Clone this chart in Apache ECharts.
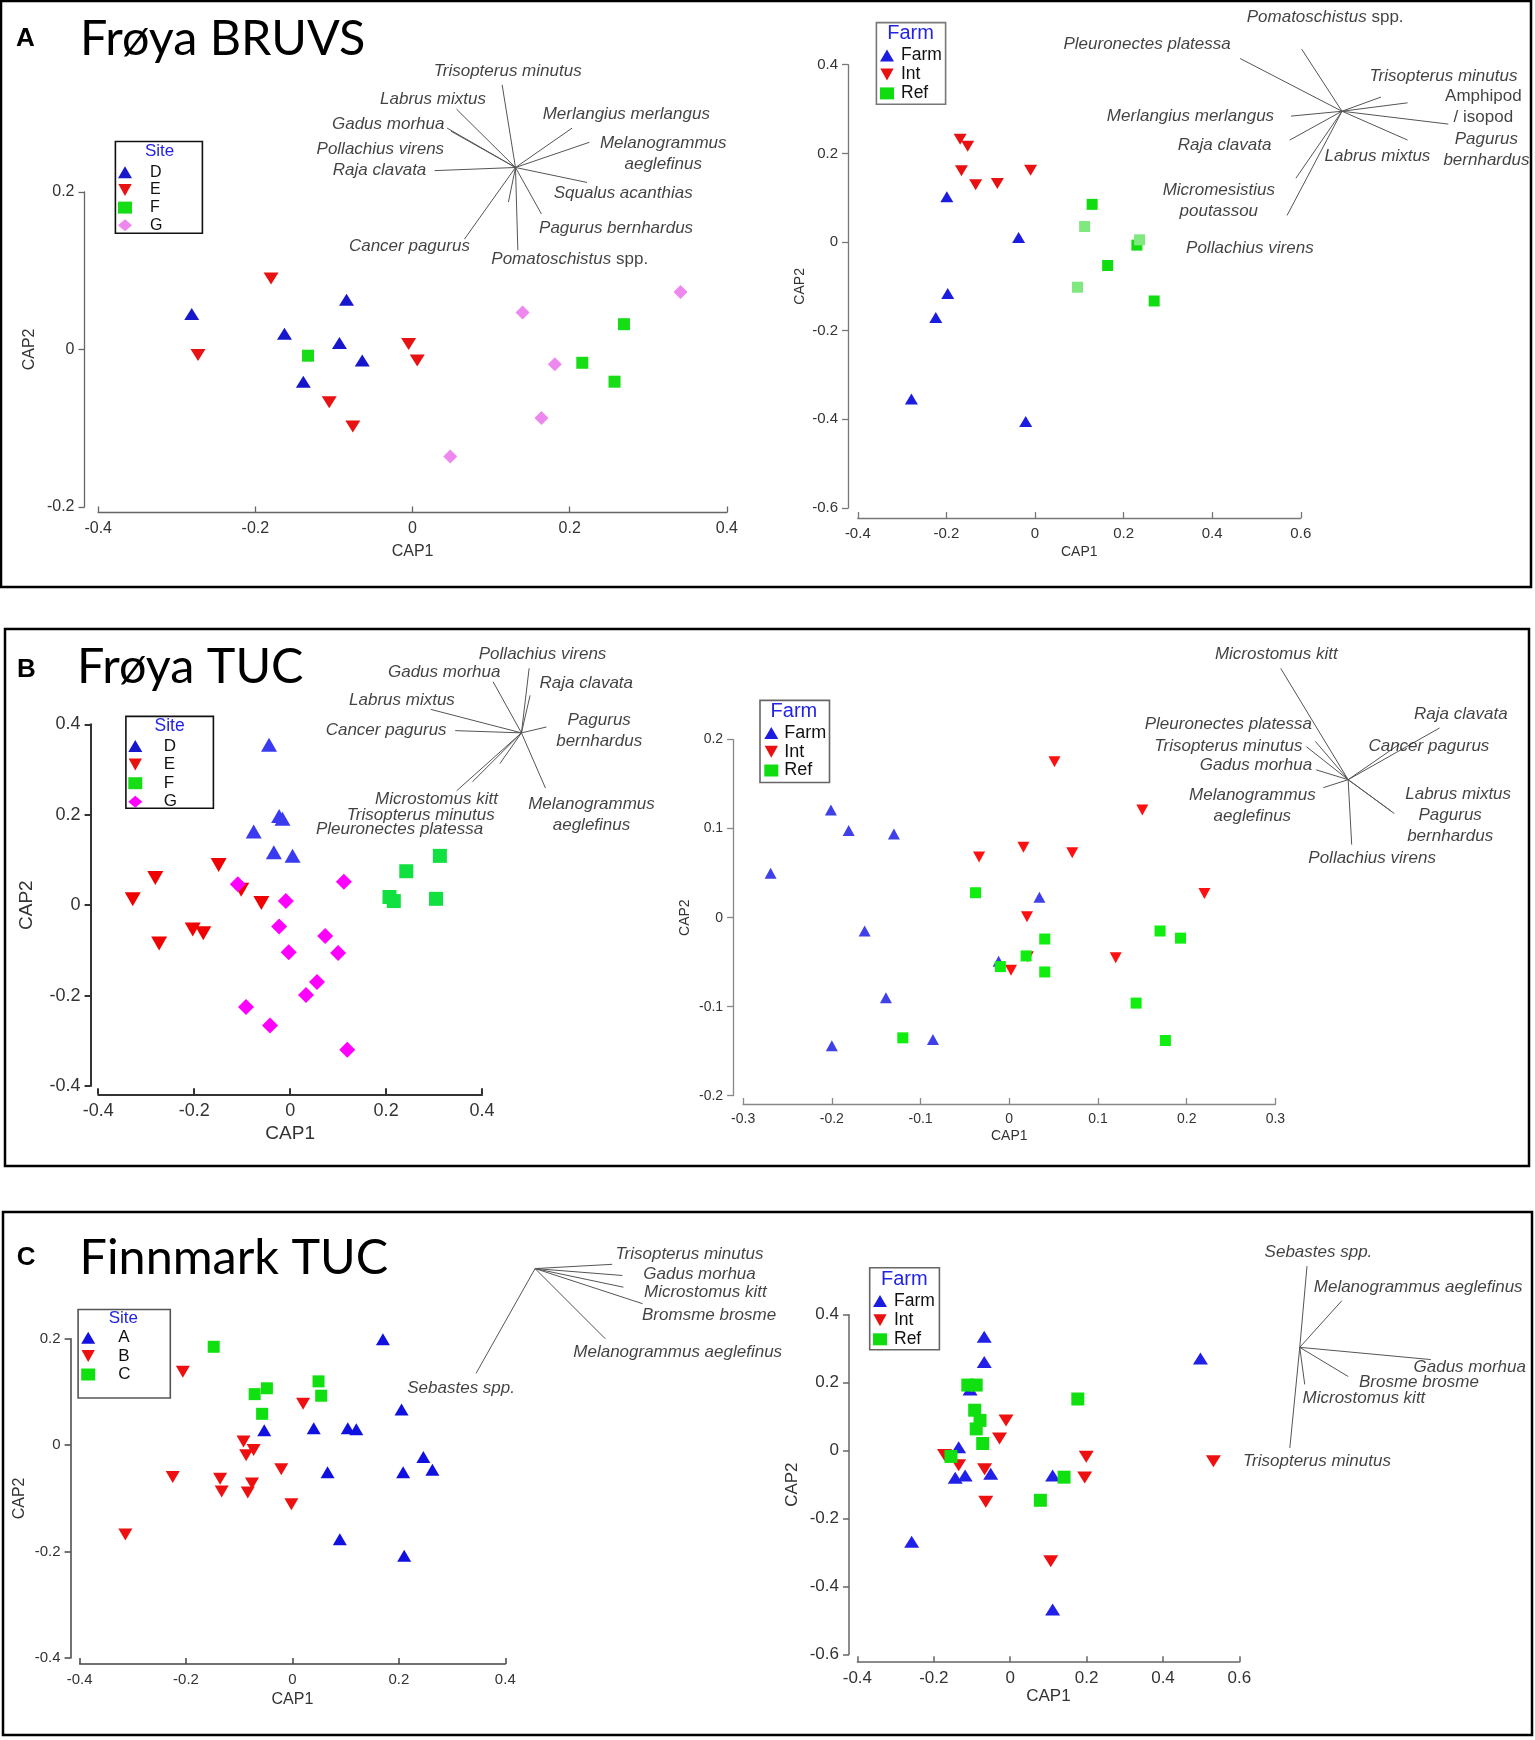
<!DOCTYPE html>
<html>
<head>
<meta charset="utf-8">
<title>CAP ordinations</title>
<script src="https://cdn.jsdelivr.net/npm/echarts@6.0.0/dist/echarts.min.js"></script>
<style>
  html, body { margin: 0; padding: 0; background: #fff; }
  #chart { width: 1535px; height: 1740px; }
</style>
</head>
<body>
<div id="chart"></div>
<script>
// ---- A, Frøya BRUVS, by site
const aSiteD = [[-0.281, 0.045], [-0.084, 0.063], [-0.163, 0.020], [-0.093, 0.008], [-0.064, -0.014], [-0.139, -0.041]];
const aSiteE = [[-0.180, 0.090], [-0.273, -0.007], [-0.005, 0.007], [0.006, -0.014], [-0.106, -0.067], [-0.076, -0.098]];
const aSiteF = [[-0.133, -0.008], [0.269, 0.032], [0.216, -0.017], [0.257, -0.041]];
const aSiteG = [[0.140, 0.047], [0.341, 0.073], [0.181, -0.019], [0.164, -0.087], [0.048, -0.136]];
const aSiteOrigin = [0.131, 0.231];
const aSiteVectors = [
  ['Trisopterus minutus', 0.114, 0.336], ['Labrus mixtus', 0.056, 0.305], ['Gadus morhua', 0.044, 0.281],
  ['Pollachius virens', 0.049, 0.277], ['Raja clavata', 0.028, 0.227], ['Merlangius merlangus', 0.203, 0.281],
  ['Melanogrammus aeglefinus', 0.225, 0.263], ['Squalus acanthias', 0.222, 0.212], ['Pagurus bernhardus', 0.164, 0.172],
  ['Pomatoschistus spp.', 0.134, 0.126], ['Cancer pagurus', 0.066, 0.140], ['', 0.122, 0.187]
];
const aSiteLabels = [
  ['Trisopterus minutus', 0.121, 0.353], ['Labrus mixtus', 0.026, 0.317], ['Gadus morhua', -0.031, 0.286],
  ['Pollachius virens', -0.041, 0.254], ['Raja clavata', -0.042, 0.228], ['Merlangius merlangus', 0.272, 0.298],
  ['Melanogrammus\naeglefinus', 0.319, 0.248], ['Squalus acanthias', 0.268, 0.198], ['Pagurus bernhardus', 0.259, 0.154],
  ['Pomatoschistus {n|spp.}', 0.200, 0.115], ['Cancer pagurus', -0.004, 0.131]
];

// ---- A, Frøya BRUVS, by farm
const aFarmFarm = [[-0.199, 0.102], [-0.037, 0.010], [-0.197, -0.116], [-0.224, -0.170], [-0.279, -0.354], [-0.021, -0.405]];
const aFarmInt = [[-0.169, 0.232], [-0.152, 0.216], [-0.166, 0.161], [-0.134, 0.129], [-0.085, 0.132], [-0.010, 0.162]];
const aFarmRef = [[0.129, 0.085], [0.230, -0.007], [0.164, -0.053], [0.269, -0.133]];
const aFarmRefPale = [[0.112, 0.035], [0.236, 0.005], [0.096, -0.102]];
const aFarmOrigin = [0.693, 0.295];
const aFarmVectors = [
  ['Pomatoschistus spp.', 0.602, 0.435], ['Pleuronectes platessa', 0.463, 0.414], ['Trisopterus minutus', 0.781, 0.327],
  ['Amphipod / isopod', 0.841, 0.314], ['Pagurus bernhardus', 0.933, 0.266], ['Labrus mixtus', 0.841, 0.230],
  ['Merlangius merlangus', 0.578, 0.284], ['Raja clavata', 0.575, 0.230], ['Micromesistius poutassou', 0.589, 0.144],
  ['Pollachius virens', 0.569, 0.060]
];
const aFarmLabels = [
  ['Pomatoschistus {n|spp.}', 0.655, 0.508], ['Pleuronectes platessa', 0.253, 0.446], ['Trisopterus minutus', 0.922, 0.374],
  ['{n|Amphipod}\n{n|/ isopod}', 1.012, 0.306], ['Pagurus\nbernhardus', 1.019, 0.208], ['Labrus mixtus', 0.773, 0.194],
  ['Merlangius merlangus', 0.351, 0.283], ['Raja clavata', 0.428, 0.218], ['Micromesistius\npoutassou', 0.415, 0.092],
  ['Pollachius virens', 0.485, -0.013]
];

// ---- B, Frøya TUC, by site
const bSiteD = [[-0.044, 0.355], [-0.023, 0.197], [-0.016, 0.191], [-0.076, 0.163], [-0.034, 0.117], [0.005, 0.109]];
const bSiteE = [[-0.328, 0.013], [-0.281, 0.060], [-0.273, -0.085], [-0.149, 0.089], [-0.102, 0.034], [-0.060, 0.005], [-0.203, -0.054], [-0.181, -0.062]];
const bSiteF = [[0.207, 0.018], [0.216, 0.009], [0.242, 0.075], [0.312, 0.109], [0.304, 0.014]];
const bSiteG = [[-0.109, 0.046], [-0.009, 0.009], [-0.023, -0.047], [-0.003, -0.104], [0.073, -0.068], [0.100, -0.106],
  [0.056, -0.170], [0.033, -0.199], [-0.092, -0.225], [-0.042, -0.266], [0.119, -0.320], [0.112, 0.052]];
const bSiteOrigin = [0.482, 0.381];
const bSiteVectors = [
  ['Pollachius virens', 0.498, 0.524], ['Gadus morhua', 0.423, 0.494], ['Raja clavata', 0.500, 0.464],
  ['Labrus mixtus', 0.293, 0.433], ['Cancer pagurus', 0.344, 0.386], ['Pagurus bernhardus', 0.534, 0.394],
  ['Melanogrammus aeglefinus', 0.532, 0.259], ['Microstomus kitt', 0.347, 0.253], ['Trisopterus minutus', 0.380, 0.273],
  ['Pleuronectes platessa', 0.437, 0.313]
];
const bSiteLabels = [
  ['Pollachius virens', 0.526, 0.555], ['Gadus morhua', 0.321, 0.516], ['Raja clavata', 0.617, 0.490],
  ['Labrus mixtus', 0.233, 0.453], ['Cancer pagurus', 0.200, 0.387], ['Pagurus\nbernhardus', 0.644, 0.385],
  ['Melanogrammus\naeglefinus', 0.628, 0.200], ['Microstomus kitt', 0.305, 0.235], ['Trisopterus minutus', 0.272, 0.199],
  ['Pleuronectes platessa', 0.228, 0.167]
];

// ---- B, Frøya TUC, by farm
const bFarmFarm = [[-0.201, 0.121], [-0.181, 0.098], [-0.130, 0.094], [-0.269, 0.050], [-0.163, -0.015], [-0.139, -0.090],
  [-0.200, -0.144], [-0.086, -0.137], [0.034, 0.023], [-0.012, -0.049]];
const bFarmInt = [[0.051, 0.175], [0.150, 0.121], [0.016, 0.079], [0.071, 0.073], [-0.034, 0.068], [0.220, 0.027],
  [0.020, 0.001], [0.021, -0.044], [0.002, -0.059], [0.120, -0.045]];
const bFarmRef = [[-0.038, 0.028], [0.040, -0.024], [0.019, -0.043], [-0.010, -0.055], [0.040, -0.061], [0.170, -0.015],
  [0.193, -0.023], [0.143, -0.096], [0.176, -0.138], [-0.120, -0.135]];
const bFarmOrigin = [0.382, 0.155];
const bFarmVectors = [
  ['Microstomus kitt', 0.306, 0.280], ['Raja clavata', 0.485, 0.213], ['Cancer pagurus', 0.440, 0.195],
  ['Pleuronectes platessa', 0.345, 0.198], ['Trisopterus minutus', 0.335, 0.192], ['Gadus morhua', 0.346, 0.166],
  ['Melanogrammus aeglefinus', 0.354, 0.146], ['Labrus mixtus', 0.430, 0.120], ['Pagurus bernhardus', 0.434, 0.117],
  ['Pollachius virens', 0.386, 0.082]
];
const bFarmLabels = [
  ['Microstomus kitt', 0.301, 0.296], ['Raja clavata', 0.509, 0.229], ['Cancer pagurus', 0.473, 0.192],
  ['Pleuronectes platessa', 0.247, 0.217], ['Trisopterus minutus', 0.247, 0.193], ['Gadus morhua', 0.278, 0.171],
  ['Melanogrammus\naeglefinus', 0.274, 0.126], ['Labrus mixtus', 0.506, 0.139], ['Pagurus\nbernhardus', 0.497, 0.103],
  ['Pollachius virens', 0.409, 0.067]
];

// ---- C, Finnmark TUC, by site
const cSiteA = [[0.170, 0.199], [0.205, 0.067], [-0.053, 0.028], [0.040, 0.032], [0.104, 0.032], [0.120, 0.030],
  [0.246, -0.022], [0.263, -0.046], [0.208, -0.051], [0.066, -0.051], [0.089, -0.177], [0.210, -0.208]];
const cSiteB = [[-0.206, 0.138], [0.020, 0.078], [-0.092, 0.007], [-0.073, -0.009], [-0.087, -0.019], [-0.021, -0.045],
  [-0.225, -0.060], [-0.136, -0.063], [-0.076, -0.072], [-0.133, -0.087], [-0.084, -0.089], [-0.002, -0.111], [-0.314, -0.168]];
const cSiteC = [[-0.148, 0.185], [-0.071, 0.096], [-0.048, 0.107], [-0.057, 0.059], [0.049, 0.120], [0.054, 0.093]];
const cSiteOrigin = [0.456, 0.332];
const cSiteVectors = [
  ['Trisopterus minutus', 0.601, 0.340], ['Gadus morhua', 0.620, 0.319], ['Microstomus kitt', 0.622, 0.297],
  ['Bromsme brosme', 0.658, 0.266], ['Melanogrammus aeglefinus', 0.588, 0.200], ['Sebastes spp.', 0.345, 0.135]
];
const cSiteLabels = [
  ['Trisopterus minutus', 0.746, 0.359], ['Gadus morhua', 0.765, 0.322], ['Microstomus kitt', 0.776, 0.287],
  ['Bromsme brosme', 0.783, 0.245], ['Melanogrammus aeglefinus', 0.724, 0.175], ['Sebastes spp.', 0.317, 0.107]
];

// ---- C, Finnmark TUC, by farm
const cFarmFarm = [[-0.068, 0.335], [-0.068, 0.261], [-0.105, 0.180], [-0.135, 0.010], [-0.144, -0.080], [-0.118, -0.073],
  [-0.051, -0.068], [0.111, -0.073], [-0.258, -0.268], [0.111, -0.467], [0.498, 0.271]];
const cFarmInt = [[-0.172, -0.013], [-0.135, -0.043], [-0.067, -0.055], [-0.011, 0.089], [-0.028, 0.036], [-0.064, -0.150],
  [0.199, -0.018], [0.195, -0.079], [0.106, -0.325], [0.532, -0.031]];
const cFarmRef = [[-0.111, 0.193], [-0.089, 0.193], [-0.093, 0.119], [-0.079, 0.089], [-0.089, 0.064], [-0.072, 0.021],
  [-0.155, -0.017], [0.177, 0.152], [0.141, -0.078], [0.079, -0.146]];
const cFarmOrigin = [0.758, 0.304];
const cFarmVectors = [
  ['Sebastes spp.', 0.777, 0.543], ['Melanogrammus aeglefinus', 0.868, 0.441], ['Gadus morhua', 1.101, 0.268],
  ['Brosme brosme', 0.885, 0.218], ['Microstomus kitt', 0.771, 0.195], ['Trisopterus minutus', 0.732, 0.008]
];
const cFarmLabels = [
  ['Sebastes spp.', 0.807, 0.585], ['Melanogrammus aeglefinus', 1.068, 0.481], ['Gadus morhua', 1.203, 0.244],
  ['Brosme brosme', 1.070, 0.200], ['Microstomus kitt', 0.926, 0.153], ['Trisopterus minutus', 0.803, -0.031]
];

const FONT = "'Liberation Sans', Arial, sans-serif";
const TRI = 'triangle';
const TRI_DOWN = 'path://M0,0L10,0L5,9Z';
const SQ = 'rect';
const DIA = 'diamond';

const panels = [
  {
    grid: { left: 98.2, top: 191.9, width: 628.7, height: 315 },
    x: [-0.4, 0.4, 0.2], y: [-0.2, 0.2, 0.2], xOffset: 5.6, yOffset: 13.7,
    axisColor: '#666', axisWidth: 1.3, tickFont: 16, nameFont: 16, xNameGap: 31, yNameGap: 47,
    groups: [
      { name: 'D', data: aSiteD, symbol: TRI, size: [15, 12], color: '#1616cc' },
      { name: 'E', data: aSiteE, symbol: TRI_DOWN, size: [15, 12], color: '#e81212' },
      { name: 'F', data: aSiteF, symbol: SQ, size: 12, color: '#16dd16' },
      { name: 'G', data: aSiteG, symbol: DIA, size: [14, 14], color: '#ee88ee' }
    ],
    origin: aSiteOrigin, vectors: aSiteVectors, labels: aSiteLabels,
    legend: { left: 118, top: 164.2, gap: 1.7, rowH: 14, font: 16, pad: 13, data: ['D', 'E', 'F', 'G'] }
  },
  {
    grid: { left: 857.8, top: 64.7, width: 443, height: 443.3 },
    x: [-0.4, 0.6, 0.2], y: [-0.6, 0.4, 0.2], xOffset: 10, yOffset: 9.8,
    axisColor: '#777', axisWidth: 1.3, tickFont: 15, nameFont: 14, xNameGap: 27, yNameGap: 41,
    groups: [
      { name: 'Farm', data: aFarmFarm, symbol: TRI, size: [13, 11], color: '#1c1ce0' },
      { name: 'Int', data: aFarmInt, symbol: TRI_DOWN, size: [13, 11], color: '#e81010' },
      { name: 'Ref', data: aFarmRef, symbol: SQ, size: 11, color: '#10dd10' },
      { name: 'Ref', data: aFarmRefPale, symbol: SQ, size: 11, color: '#7fe87f' }
    ],
    origin: aFarmOrigin, vectors: aFarmVectors, labels: aFarmLabels,
    legend: { left: 880, top: 46.4, gap: 1, rowH: 16, font: 17.5, pad: 2, data: ['Farm', 'Int', 'Ref'] }
  },
  {
    grid: { left: 98.2, top: 724.3, width: 383.9, height: 361.7 },
    x: [-0.4, 0.4, 0.2], y: [-0.4, 0.4, 0.2], xOffset: 8.3, yOffset: 7.6,
    axisColor: '#333', axisWidth: 2, tickFont: 18, nameFont: 19, xNameGap: 30, yNameGap: 54,
    groups: [
      { name: 'D', data: bSiteD, symbol: TRI, size: [16, 14], color: '#3a3af0' },
      { name: 'E', data: bSiteE, symbol: TRI_DOWN, size: [16, 14], color: '#f00000' },
      { name: 'F', data: bSiteF, symbol: SQ, size: 14, color: '#10e040' },
      { name: 'G', data: bSiteG, symbol: DIA, size: [16, 16], color: '#ff00ff' }
    ],
    origin: bSiteOrigin, vectors: bSiteVectors, labels: bSiteLabels,
    legend: { left: 128.3, top: 737.5, gap: 1.6, rowH: 14, font: 17, pad: 16.5,
      data: ['D', 'E', 'F', { name: 'G', itemStyle: { color: '#ff00ff' } }] }
  },
  {
    grid: { left: 743.1, top: 739.6, width: 532.3, height: 356.1 },
    x: [-0.3, 0.3, 0.1], y: [-0.2, 0.2, 0.1], xOffset: 8.3, yOffset: 10,
    axisColor: '#888', axisWidth: 1.3, tickFont: 14, nameFont: 14, xNameGap: 25, yNameGap: 41,
    groups: [
      { name: 'Farm', data: bFarmFarm, symbol: TRI, size: [12, 11], color: '#4040e8' },
      { name: 'Int', data: bFarmInt, symbol: TRI_DOWN, size: [12, 11], color: '#ff1010' },
      { name: 'Ref', data: bFarmRef, symbol: SQ, size: 11, color: '#10ee10' }
    ],
    origin: bFarmOrigin, vectors: bFarmVectors, labels: bFarmLabels,
    legend: { left: 764.3, top: 724, gap: 0.75, rowH: 16, font: 18, pad: 1, data: ['Farm', 'Int', 'Ref'] }
  },
  {
    grid: { left: 79.6, top: 1338.8, width: 425.7, height: 319.2 },
    x: [-0.4, 0.4, 0.2], y: [-0.4, 0.2, 0.2], xOffset: 5.9, yOffset: 9,
    axisColor: '#444', axisWidth: 1.5, tickFont: 15, nameFont: 16, xNameGap: 28, yNameGap: 43,
    groups: [
      { name: 'A', data: cSiteA, symbol: TRI, size: [14, 12], color: '#1010e0' },
      { name: 'B', data: cSiteB, symbol: TRI_DOWN, size: [14, 12], color: '#ee1010' },
      { name: 'C', data: cSiteC, symbol: SQ, size: 12, color: '#10e010' }
    ],
    origin: cSiteOrigin, vectors: cSiteVectors, labels: cSiteLabels,
    legend: { left: 81.2, top: 1329.2, gap: 1.4, rowH: 14, font: 17, pad: 18, data: ['A', 'B', 'C'] }
  },
  {
    grid: { left: 857.4, top: 1314.7, width: 382, height: 339.9 },
    x: [-0.4, 0.6, 0.2], y: [-0.6, 0.4, 0.2], xOffset: 7.6, yOffset: 8.4,
    axisColor: '#666', axisWidth: 1.5, tickFont: 17, nameFont: 17, xNameGap: 26, yNameGap: 48,
    groups: [
      { name: 'Farm', data: cFarmFarm, symbol: TRI, size: [15, 12], color: '#2020e8' },
      { name: 'Int', data: cFarmInt, symbol: TRI_DOWN, size: [15, 12], color: '#ee1010' },
      { name: 'Ref', data: cFarmRef, symbol: SQ, size: 13, color: '#10e010' }
    ],
    origin: cFarmOrigin, vectors: cFarmVectors, labels: cFarmLabels,
    legend: { left: 873, top: 1292.1, gap: 1.1, rowH: 16, font: 17.5, pad: 2, data: ['Farm', 'Int', 'Ref'] }
  }
];

// frames, panel titles, legend boxes and legend headings
const TITLE_FONT = '48.5px Lato, ' + FONT;
const frames = [[1, 1, 1530, 586], [5, 629, 1524, 537], [3, 1212, 1529, 523]];
const titles = [
  ['A', 25.5, 39, 'bold 26px ' + FONT], ['Frøya BRUVS', 80, 39, TITLE_FONT],
  ['B', 26.3, 670, 'bold 26px ' + FONT], ['Frøya TUC', 77, 667, TITLE_FONT],
  ['C', 26.2, 1258, 'bold 26px ' + FONT], ['Finnmark TUC', 79.6, 1258, TITLE_FONT]
];
const legendBoxes = [
  [115.4, 141.5, 87, 91.8, '#111', 'Site', 159.6, 151.3, 17],
  [876.4, 22.6, 69.2, 81.6, '#777', 'Farm', 910.5, 33.9, 20],
  [125.9, 716.4, 87.5, 91.8, '#111', 'Site', 169.6, 726.4, 17.5],
  [760, 700.4, 69.5, 82.1, '#666', 'Farm', 793.9, 711.8, 20],
  [78.1, 1309.5, 92.2, 88.5, '#555', 'Site', 123.4, 1318.8, 17],
  [869.7, 1267.8, 69.7, 82, '#666', 'Farm', 904.3, 1279.2, 20]
];

const option = {
  animation: false,
  backgroundColor: '#fff',
  grid: [], xAxis: [], yAxis: [], series: [], legend: [], graphic: []
};

panels.forEach((p, i) => {
  option.grid.push(Object.assign({ containLabel: false, outerBoundsMode: 'none' }, p.grid));
  const line = { show: true, onZero: false, lineStyle: { color: p.axisColor, width: p.axisWidth } };
  const nameStyle = { fontFamily: FONT, fontSize: p.nameFont, color: '#333' };
  option.xAxis.push({
    gridIndex: i, type: 'value', position: 'bottom', min: p.x[0], max: p.x[1], interval: p.x[2], offset: p.xOffset,
    axisLine: line,
    axisTick: { show: true, inside: true, length: 6, lineStyle: { color: p.axisColor, width: p.axisWidth } },
    axisLabel: { fontFamily: FONT, fontSize: p.tickFont, color: '#333', margin: 8 },
    splitLine: { show: false },
    name: 'CAP1', nameLocation: 'middle', nameGap: p.xNameGap, nameTextStyle: nameStyle
  });
  option.yAxis.push({
    gridIndex: i, type: 'value', position: 'left', min: p.y[0], max: p.y[1], interval: p.y[2], offset: p.yOffset,
    axisLine: line,
    axisTick: { show: true, inside: false, length: 6, lineStyle: { color: p.axisColor, width: p.axisWidth } },
    axisLabel: { fontFamily: FONT, fontSize: p.tickFont, color: '#333', margin: 10 },
    splitLine: { show: false },
    name: 'CAP2', nameLocation: 'middle', nameGap: p.yNameGap, nameTextStyle: nameStyle
  });

  // species vectors
  option.series.push({
    type: 'lines', coordinateSystem: 'cartesian2d', xAxisIndex: i, yAxisIndex: i,
    clip: false, silent: true, z: 1,
    lineStyle: { color: '#555', width: 1, opacity: 1, curveness: 0 },
    data: p.vectors.map(v => ({ coords: [p.origin, [v[1], v[2]]] }))
  });

  p.groups.forEach(g => {
    option.series.push({
      type: 'scatter', name: g.name, xAxisIndex: i, yAxisIndex: i, data: g.data,
      symbol: g.symbol, symbolSize: g.size, itemStyle: { color: g.color, opacity: 1 },
      clip: false, silent: true, z: 2
    });
  });

  // species names
  option.series.push({
    type: 'scatter', xAxisIndex: i, yAxisIndex: i, symbolSize: 0, clip: false, silent: true, z: 3,
    itemStyle: { color: 'rgba(0,0,0,0)' },
    data: p.labels.map(l => ({ value: [l[1], l[2]], name: l[0] })),
    label: {
      show: true, position: 'inside', formatter: d => d.name,
      fontFamily: FONT, fontStyle: 'italic', fontSize: 17, color: '#111', lineHeight: 21,
      align: 'center', verticalAlign: 'middle',
      rich: { n: { fontFamily: FONT, fontStyle: 'normal', fontSize: 17, color: '#111', lineHeight: 21 } }
    },
    emphasis: { disabled: true }
  });

  const lg = p.legend;
  option.legend.push({
    orient: 'vertical', left: lg.left, top: lg.top, padding: 0, itemWidth: 14, itemHeight: 12,
    itemGap: lg.gap, selectedMode: false, data: lg.data,
    textStyle: { fontFamily: FONT, fontSize: lg.font, color: '#111', lineHeight: lg.rowH, padding: [0, 0, 0, lg.pad] }
  });
});

frames.forEach(f => option.graphic.push({
  type: 'rect', silent: true, shape: { x: f[0], y: f[1], width: f[2], height: f[3] },
  style: { fill: 'none', stroke: '#000', lineWidth: 2.5 }
}));
titles.forEach(t => option.graphic.push({
  type: 'text', silent: true, x: t[1], y: t[2],
  style: { text: t[0], font: t[3], fill: '#000', textAlign: t[0].length > 1 ? 'left' : 'center', textVerticalAlign: 'middle' }
}));
legendBoxes.forEach(b => {
  option.graphic.push({
    type: 'rect', silent: true, shape: { x: b[0], y: b[1], width: b[2], height: b[3] },
    style: { fill: 'none', stroke: b[4], lineWidth: 1.6 }
  });
  option.graphic.push({
    type: 'text', silent: true, x: b[6], y: b[7],
    style: { text: b[5], font: b[8] + 'px ' + FONT, fill: '#2323e6', textAlign: 'center', textVerticalAlign: 'middle' }
  });
});

const chart = echarts.init(document.getElementById('chart'), null, { renderer: 'canvas' });
chart.setOption(option);
window.addEventListener('resize', () => chart.resize());
</script>
</body>
</html>
